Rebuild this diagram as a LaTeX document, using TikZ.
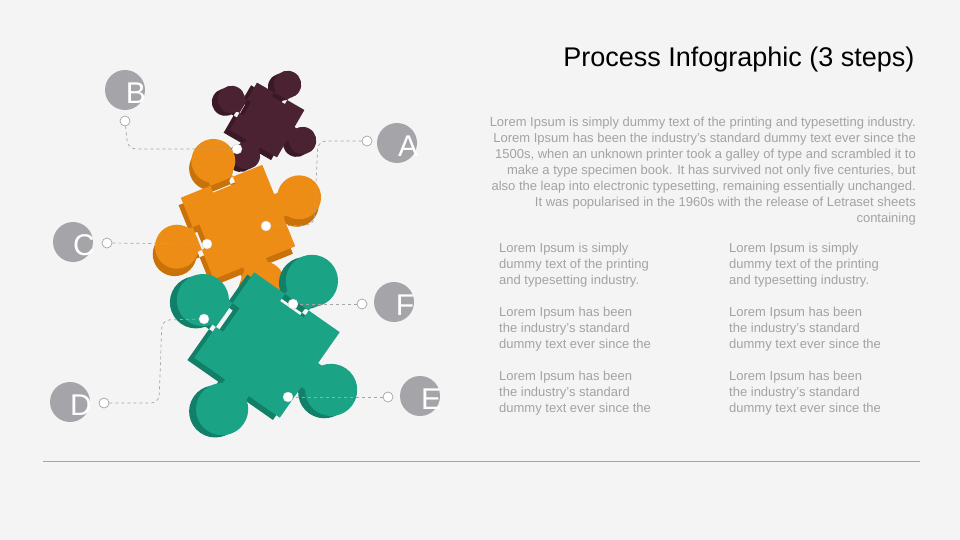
\documentclass[tikz,border=0pt]{standalone}
\usepackage{fontspec}
\setmainfont{Liberation Sans}
\definecolor{bg}{HTML}{F4F4F4}
\definecolor{lab}{HTML}{A5A4A8}
\definecolor{txt}{HTML}{A3A3A3}
\definecolor{plum}{HTML}{4A2232}
\definecolor{plumd}{HTML}{3A1826}
\definecolor{orng}{HTML}{EE8D15}
\definecolor{orngd}{HTML}{C9720A}
\definecolor{teal}{HTML}{1BA386}
\definecolor{teald}{HTML}{128069}
\newcommand\mypiece[1]{%
  \fill[#1] (-0.36,-0.36) -- (0.36,-0.36) -- (0.36,0.36) -- (-0.36,0.36) -- cycle
    (0.3,-0.1) -- (0.45,-0.1) -- (0.45,0.1) -- (0.3,0.1) -- cycle
    (-0.3,-0.1) -- (-0.45,-0.1) -- (-0.45,0.1) -- (-0.3,0.1) -- cycle
    (-0.1,0.3) -- (0.1,0.3) -- (0.1,0.45) -- (-0.1,0.45) -- cycle
    (-0.1,-0.3) -- (0.1,-0.3) -- (0.1,-0.45) -- (-0.1,-0.45) -- cycle;
  \fill[#1] (0.54,0) circle (0.18) (-0.54,0) circle (0.18) (0,0.54) circle (0.18) (0,-0.54) circle (0.18);}
\tikzset{
  lbl/.style={circle,fill=lab,minimum size=40pt,inner sep=0pt},
  lt/.style={text=white,font=\fontsize{30}{30}\selectfont},
  hol/.style={circle,draw=lab,fill=white,minimum size=10pt,inner sep=0pt,line width=0.7pt},
  dot/.style={circle,fill=white,draw=lab!50,minimum size=10pt,inner sep=0pt},
  con/.style={dashed,draw=lab,line width=0.7pt,rounded corners=8pt},
  body/.style={text=txt,font=\fontsize{13}{16}\selectfont,anchor=north west,align=left,inner sep=0pt}
}
\begin{document}
\begin{tikzpicture}[x=1pt,y=-1pt]
\fill[bg] (0,0) rectangle (960,540);
\useasboundingbox (0,0) rectangle (960,540);
% pieces
\begin{scope}[shift={(267,120)},rotate=-30,scale=76]
\begin{scope}[shift={(-0.05,0.07)}]\mypiece{plumd}\end{scope}
\mypiece{plum}
\end{scope}
\begin{scope}[shift={(238,222)},rotate=22,scale=122]
\begin{scope}[shift={(-0.04,0.05)}]\mypiece{orngd}\end{scope}
\mypiece{orng}
\end{scope}
\begin{scope}[shift={(267,345)},rotate=-35,scale=145]
\begin{scope}[shift={(-0.03,0.04)}]\mypiece{teald}\end{scope}
\mypiece{teal}
\end{scope}
% labels
\node[lbl] (B) at (125,90) {}; \node[lt] at (136,93) {B};
\node[lbl] (A) at (397,143) {}; \node[lt] at (408,146) {A};
\node[lbl] (C) at (73,242) {}; \node[lt] at (84,245) {C};
\node[lbl] (F) at (394,302) {}; \node[lt] at (405,305) {F};
\node[lbl] (D) at (70,402) {}; \node[lt] at (81,405) {D};
\node[lbl] (E) at (420,396) {}; \node[lt] at (431,399) {E};
\node[hol] (hb) at (125,121) {};
\node[hol] (ha) at (367,141) {};
\node[hol] (hc) at (107,243) {};
\node[hol] (hf) at (362,304) {};
\node[hol] (hd) at (104,403) {};
\node[hol] (he) at (388,397) {};
\node[dot] (db) at (237,149) {};
\node[dot] (da) at (266,226) {};
\node[dot] (dc) at (207,244) {};
\node[dot] (df) at (293,304) {};
\node[dot] (dd) at (204,319) {};
\node[dot] (de) at (288,397) {};
\coordinate (cb) at (128,149); \coordinate (ca1) at (318,141); \coordinate (ca2) at (314,225);
\coordinate (cd1) at (159,403); \coordinate (cd2) at (162,320);
\draw[con] (hb) -- (cb) -- (db);
\draw[con] (ha) -- (ca1) -- (ca2) -- (da);
\draw[con] (hc) -- (dc);
\draw[con] (hf) -- (df);
\draw[con] (hd) -- (cd1) -- (cd2) -- (dd);
\draw[con] (he) -- (de);
% text
\node[anchor=east,font=\fontsize{27}{30}\selectfont,text=black] (title) at (918,60) {Process Infographic (3 steps)};
\node[text=txt,font=\fontsize{13}{16}\selectfont,anchor=north east,align=right,inner sep=0pt] (para) at (916,117) {Lorem Ipsum is simply dummy text of the printing and typesetting industry.\\Lorem Ipsum has been the industry's standard dummy text ever since the\\1500s, when an unknown printer took a galley of type and scrambled it to\\make a type specimen book. It has survived not only five centuries, but\\also the leap into electronic typesetting, remaining essentially unchanged.\\It was popularised in the 1960s with the release of Letraset sheets\\containing};
\foreach \x/\n in {499/l,729/r}{
\node[body] (a\n) at (\x,243) {Lorem Ipsum is simply\\dummy text of the printing\\and typesetting industry.};
\node[body] (b\n) at (\x,307) {Lorem Ipsum has been\\the industry's standard\\dummy text ever  since the};
\node[body] (c\n) at (\x,371) {Lorem Ipsum has been\\the industry's standard\\dummy text ever  since the};
}
\coordinate (l1) at (43,461); \coordinate (l2) at (920,461);
\draw[lab,line width=0.8pt] (l1) -- (l2);
\end{tikzpicture}
\end{document}
